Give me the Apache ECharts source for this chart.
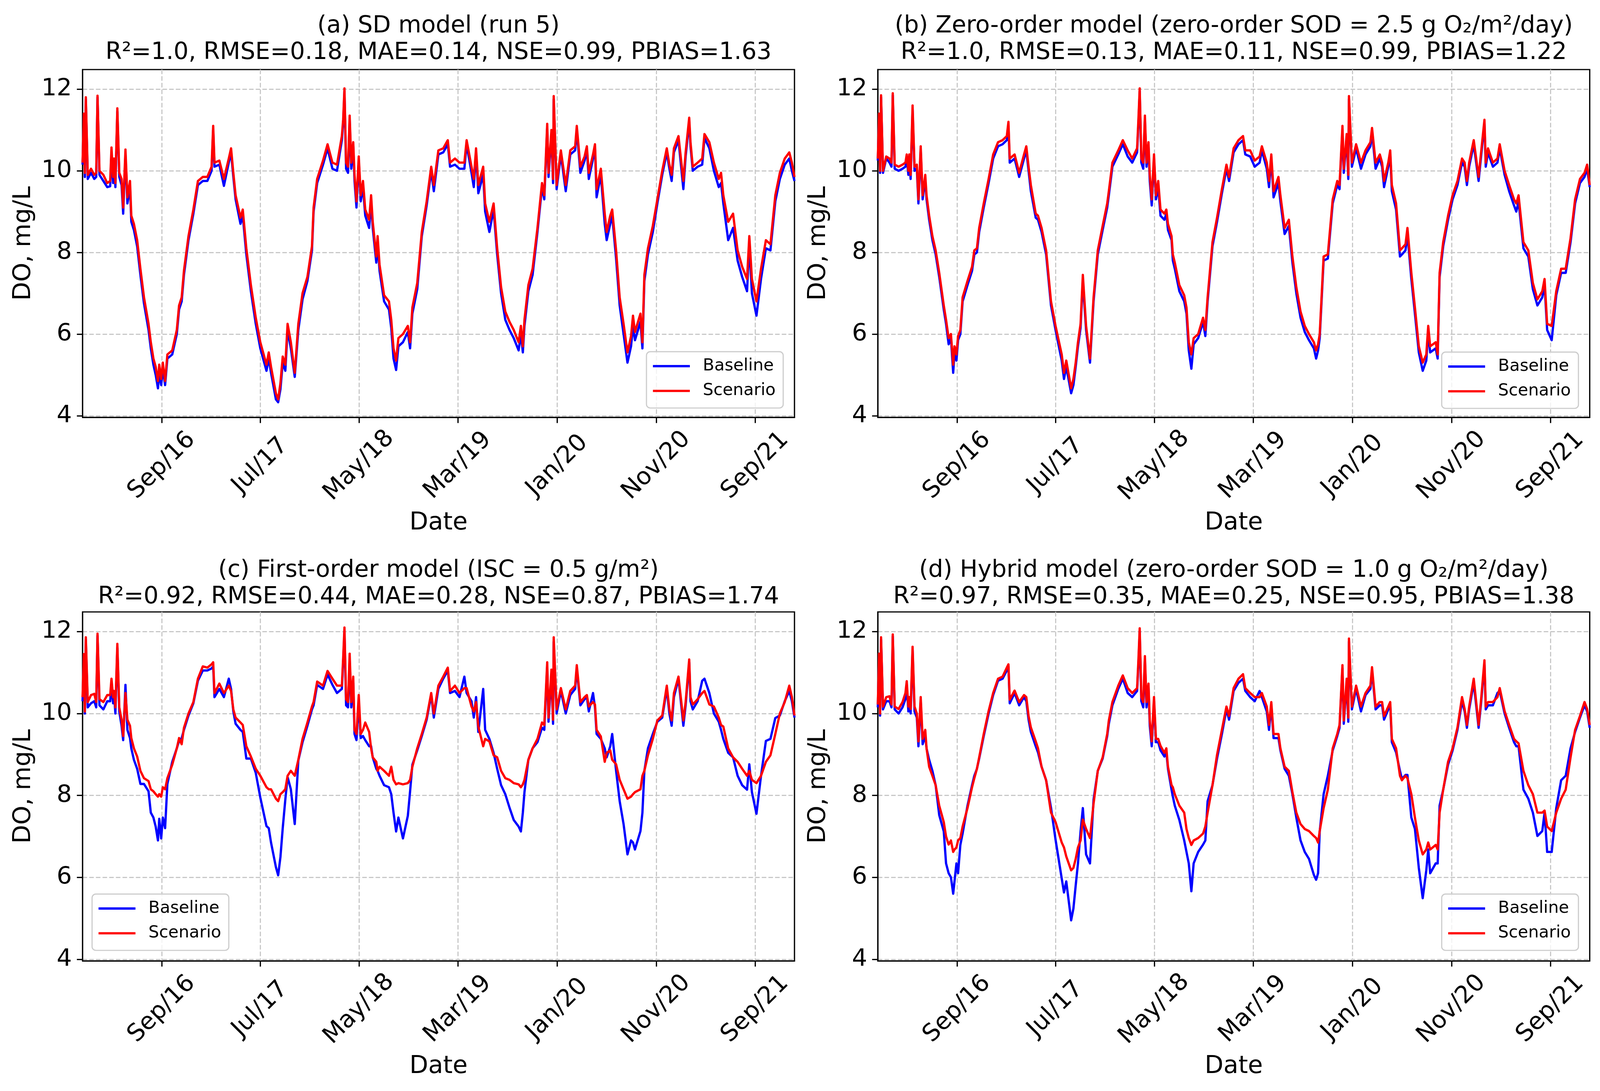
<!DOCTYPE html>
<html>
<head>
<meta charset="utf-8">
<title>DO baseline vs scenario</title>
<script src="https://cdn.jsdelivr.net/npm/echarts@6/dist/echarts.min.js"></script>
<style>
  html, body { margin: 0; padding: 0; background: #fff; overflow: hidden; }
  #chart { width: 100vw; height: 100vh; }
</style>
</head>
<body>
<div id="chart"></div>
<script>
// sample days, counted from 2016-01-01 (denser around spikes)
var days = [
  0, 4, 7, 10, 16, 26, 36, 42, 46, 52,
  64, 76, 85, 89, 94, 97, 101, 107, 113, 120,
  125, 132, 138, 146, 150, 158, 168, 178, 189, 203,
  210, 218, 225, 232, 236, 242, 247, 254, 261, 276,
  290, 297, 305, 312, 326, 341, 355, 370, 384, 397,
  402, 406, 421, 435, 450, 457, 464, 471, 486, 493,
  504, 518, 533, 547, 566, 573, 580, 595, 602, 609,
  616, 624, 631, 641, 653, 664, 677, 692, 706, 711,
  722, 740, 754, 769, 783, 798, 802, 806, 811, 817,
  822, 827, 833, 837, 843, 850, 856, 863, 870, 882,
  888, 893, 904, 908, 914, 928, 943, 950, 957, 965,
  972, 986, 1001, 1008, 1015, 1030, 1044, 1059, 1073, 1081,
  1095, 1110, 1124, 1131, 1146, 1160, 1175, 1182, 1197, 1204,
  1211, 1218, 1233, 1239, 1252, 1265, 1276, 1288, 1301, 1314,
  1327, 1342, 1349, 1355, 1360, 1372, 1385, 1400, 1414, 1421,
  1430, 1434, 1443, 1448, 1450, 1459, 1472, 1487, 1501, 1516,
  1521, 1532, 1545, 1552, 1558, 1571, 1577, 1582, 1595, 1607,
  1613, 1624, 1630, 1642, 1653, 1665, 1677, 1688, 1694, 1700,
  1717, 1723, 1729, 1740, 1755, 1769, 1784, 1798, 1806, 1813,
  1820, 1834, 1849, 1856, 1867, 1871, 1878, 1893, 1907, 1914,
  1929, 1943, 1958, 1965, 1972, 1987, 2002, 2016, 2030, 2045,
  2052, 2060, 2074, 2088, 2103, 2117, 2132, 2146, 2161, 2175,
  2183, 2191
];

// (a) SD model
var aBase = [
  10.15, 11.35, 9.85, 11.75, 9.8, 9.95, 9.8, 9.85, 11.8, 9.9,
  9.75, 9.6, 9.62, 10.45, 9.7, 10.2, 9.6, 11.45, 9.85, 9.65,
  8.95, 10.4, 9.2, 9.6, 8.75, 8.55, 8.15, 7.45, 6.75, 6.1,
  5.65, 5.25, 5.0, 4.67, 5.05, 4.75, 5.15, 4.75, 5.4, 5.5,
  6.0, 6.6, 6.8, 7.45, 8.3, 8.95, 9.65, 9.75, 9.75, 10.0,
  11.0, 10.1, 10.15, 9.63, 10.2, 10.45, 9.85, 9.3, 8.7, 8.9,
  7.95, 7.05, 6.25, 5.65, 5.1, 5.4, 5.05, 4.4, 4.33, 4.65,
  5.3, 5.1, 6.1, 5.65, 4.95, 6.1, 6.85, 7.3, 8.05, 9.0,
  9.7, 10.15, 10.55, 10.05, 10.0, 10.75, 11.15, 11.95, 10.05, 9.95,
  11.25, 10.05, 10.6, 9.75, 9.1, 10.25, 9.25, 9.6, 8.9, 8.6,
  9.25, 8.6, 7.75, 8.25, 7.55, 6.8, 6.6, 6.15, 5.4, 5.12,
  5.7, 5.8, 6.05, 5.65, 6.5, 7.1, 8.4, 9.15, 10.0, 9.5,
  10.4, 10.45, 10.65, 10.1, 10.15, 10.05, 10.05, 10.65, 9.95, 9.6,
  10.45, 9.45, 9.9, 9.0, 8.5, 9.05, 7.95, 7.0, 6.35, 6.1,
  5.9, 5.6, 6.0, 5.55, 6.2, 7.05, 7.45, 8.5, 9.6, 9.3,
  11.05, 9.85, 10.9, 9.7, 11.75, 9.55, 10.4, 9.5, 10.4, 10.5,
  11.0, 9.95, 10.25, 10.5, 9.8, 10.3, 10.55, 9.35, 9.9, 8.7,
  8.3, 8.7, 8.9, 7.85, 6.7, 6.0, 5.3, 5.7, 6.2, 5.85,
  6.3, 5.65, 7.3, 7.95, 8.5, 9.2, 9.9, 10.45, 10.05, 9.75,
  10.45, 10.75, 9.55, 10.35, 11.2, 10.6, 10.0, 10.1, 10.15, 10.8,
  10.55, 10.0, 9.6, 9.7, 9.2, 8.3, 8.6, 7.8, 7.4, 7.05,
  8.2, 7.0, 6.45, 7.35, 8.1, 8.05, 9.25, 9.8, 10.15, 10.3,
  10.0, 9.75
];
var aScen = [
  10.2, 11.4, 9.95, 11.8, 9.9, 10.05, 9.9, 9.95, 11.84, 10.0,
  9.9, 9.7, 9.75, 10.57, 9.85, 10.3, 9.7, 11.53, 9.95, 9.8,
  9.1, 10.52, 9.35, 9.75, 8.9, 8.7, 8.3, 7.6, 6.9, 6.25,
  5.8, 5.4, 5.2, 4.85, 5.25, 4.9, 5.3, 4.85, 5.5, 5.6,
  6.1, 6.7, 6.9, 7.55, 8.4, 9.05, 9.75, 9.85, 9.85, 10.1,
  11.1, 10.2, 10.25, 9.8, 10.3, 10.55, 9.95, 9.4, 8.85, 9.05,
  8.1, 7.2, 6.4, 5.8, 5.25, 5.55, 5.2, 4.55, 4.4, 4.8,
  5.45, 5.25, 6.25, 5.8, 5.05, 6.25, 7.0, 7.4, 8.15, 9.1,
  9.8, 10.25, 10.65, 10.2, 10.15, 10.85, 11.25, 12.02, 10.2, 10.1,
  11.35, 10.2, 10.7, 9.9, 9.25, 10.35, 9.4, 9.75, 9.05, 8.8,
  9.4, 8.75, 7.9, 8.4, 7.7, 6.95, 6.8, 6.35, 5.65, 5.35,
  5.9, 6.0, 6.2, 5.8, 6.65, 7.25, 8.5, 9.25, 10.1, 9.65,
  10.5, 10.55, 10.75, 10.2, 10.3, 10.2, 10.2, 10.75, 10.1, 9.8,
  10.55, 9.65, 10.1, 9.2, 8.75, 9.2, 8.1, 7.15, 6.55, 6.3,
  6.1, 5.8, 6.2, 5.7, 6.35, 7.2, 7.6, 8.6, 9.7, 9.4,
  11.15, 9.95, 11.0, 9.8, 11.83, 9.65, 10.5, 9.65, 10.5, 10.6,
  11.1, 10.1, 10.35, 10.6, 9.95, 10.4, 10.65, 9.55, 10.05, 8.95,
  8.5, 8.9, 9.05, 8.05, 6.9, 6.25, 5.55, 5.95, 6.45, 6.05,
  6.5, 5.8, 7.45, 8.1, 8.65, 9.3, 10.0, 10.55, 10.15, 9.9,
  10.55, 10.85, 9.75, 10.45, 11.3, 10.7, 10.1, 10.2, 10.3, 10.9,
  10.7, 10.2, 9.8, 9.95, 9.4, 8.75, 8.95, 8.05, 7.65, 7.35,
  8.4, 7.35, 6.8, 7.6, 8.3, 8.2, 9.4, 9.95, 10.3, 10.45,
  10.2, 9.85
];

// (b) zero-order model
var bBase = [
  10.25, 11.35, 9.95, 11.8, 9.95, 10.3, 10.2, 10.1, 11.85, 10.05,
  10.0, 10.05, 10.1, 10.3, 9.9, 10.3, 9.8, 11.5, 10.0, 10.05,
  9.2, 10.5, 9.3, 9.8, 9.3, 8.8, 8.3, 7.95, 7.4, 6.6,
  6.25, 5.75, 5.9, 5.05, 5.55, 5.35, 5.85, 6.0, 6.8, 7.2,
  7.55, 7.95, 8.0, 8.5, 9.1, 9.7, 10.3, 10.6, 10.65, 10.75,
  11.1, 10.2, 10.3, 9.85, 10.3, 10.5, 10.0, 9.5, 8.85, 8.8,
  8.5, 7.95, 6.7, 6.1, 5.35, 4.9, 5.2, 4.55, 4.75, 5.2,
  5.7, 6.15, 7.3, 6.1, 5.3, 6.8, 7.95, 8.55, 9.1, 9.4,
  10.1, 10.4, 10.65, 10.35, 10.2, 10.45, 11.15, 11.95, 10.2, 10.05,
  11.25, 10.1, 10.6, 9.75, 9.15, 10.3, 9.3, 9.6, 8.9, 8.8,
  8.95, 8.55, 8.3, 7.8, 7.6, 7.05, 6.8, 6.5, 5.6, 5.15,
  5.75, 5.9, 6.3, 5.95, 6.8, 8.15, 8.75, 9.45, 10.05, 9.75,
  10.45, 10.65, 10.75, 10.4, 10.35, 10.1, 10.2, 10.5, 10.05, 9.6,
  10.3, 9.35, 9.7, 9.25, 8.45, 8.65, 7.75, 7.0, 6.4, 6.05,
  5.85, 5.65, 5.4, 5.6, 5.9, 7.8, 7.85, 9.2, 9.65, 9.55,
  11.0, 9.95, 10.8, 9.8, 11.75, 10.1, 10.55, 10.05, 10.4, 10.6,
  10.95, 10.05, 10.3, 10.1, 9.6, 10.1, 10.4, 9.5, 9.05, 7.9,
  7.95, 8.05, 8.45, 7.35, 6.5, 5.55, 5.1, 5.35, 6.05, 5.55,
  5.65, 5.4, 7.4, 8.15, 8.8, 9.3, 9.65, 10.2, 10.1, 9.65,
  10.1, 10.65, 9.75, 10.3, 11.15, 10.1, 10.45, 10.1, 10.2, 10.55,
  9.9, 9.5, 9.15, 9.0, 9.25, 8.1, 7.9, 7.1, 6.7, 6.9,
  7.2, 6.1, 5.85, 6.95, 7.5, 7.5, 8.25, 9.2, 9.7, 9.85,
  10.05, 9.6
];
var bScen = [
  10.3, 11.4, 10.0, 11.85, 10.0, 10.35, 10.3, 10.2, 11.9, 10.15,
  10.1, 10.15, 10.2, 10.4, 10.0, 10.4, 9.9, 11.6, 10.1, 10.15,
  9.3, 10.6, 9.4, 9.9, 9.4, 8.9, 8.4, 8.05, 7.5, 6.7,
  6.35, 5.9, 6.0, 5.25, 5.7, 5.5, 5.95, 6.1, 6.9, 7.3,
  7.65, 8.05, 8.1, 8.6, 9.2, 9.8, 10.4, 10.7, 10.75, 10.85,
  11.2, 10.3, 10.4, 9.95, 10.4, 10.6, 10.1, 9.65, 8.95, 8.9,
  8.6, 8.05, 6.8, 6.2, 5.5, 5.05, 5.35, 4.67, 4.9, 5.3,
  5.8, 6.25, 7.45, 6.2, 5.4, 6.9, 8.05, 8.65, 9.2, 9.5,
  10.2, 10.5, 10.75, 10.5, 10.3, 10.55, 11.25, 12.02, 10.3, 10.2,
  11.35, 10.2, 10.7, 9.9, 9.3, 10.4, 9.4, 9.75, 9.05, 8.95,
  9.05, 8.7, 8.4, 7.95, 7.75, 7.2, 6.95, 6.65, 5.8, 5.5,
  5.9, 6.0, 6.4, 6.1, 6.9, 8.25, 8.85, 9.55, 10.15, 9.85,
  10.55, 10.75, 10.85, 10.5, 10.5, 10.25, 10.35, 10.6, 10.2, 9.75,
  10.4, 9.5, 9.85, 9.4, 8.6, 8.8, 7.9, 7.15, 6.55, 6.2,
  6.0, 5.8, 5.6, 5.75, 6.0, 7.9, 7.95, 9.3, 9.75, 9.65,
  11.1, 10.05, 10.9, 9.9, 11.83, 10.2, 10.65, 10.2, 10.5, 10.7,
  11.05, 10.2, 10.4, 10.2, 9.75, 10.2, 10.5, 9.65, 9.2, 8.05,
  8.1, 8.2, 8.6, 7.5, 6.65, 5.7, 5.3, 5.5, 6.2, 5.7,
  5.8, 5.5, 7.5, 8.25, 8.9, 9.4, 9.75, 10.3, 10.2, 9.75,
  10.2, 10.75, 9.85, 10.4, 11.25, 10.2, 10.55, 10.2, 10.3, 10.65,
  10.0, 9.65, 9.3, 9.2, 9.4, 8.25, 8.05, 7.25, 6.85, 7.05,
  7.35, 6.25, 6.2, 7.05, 7.6, 7.6, 8.35, 9.3, 9.8, 9.95,
  10.15, 9.65
];

// (c) first-order model
var cBase = [
  10.3, 11.4, 10.0, 11.8, 10.15, 10.25, 10.3, 10.15, 11.9, 10.2,
  10.1, 10.3, 10.3, 10.7, 10.25, 10.45, 10.0, 11.6, 10.05, 9.7,
  9.35, 10.7, 9.6, 9.4, 9.15, 8.87, 8.65, 8.28, 8.28, 8.1,
  7.58, 7.46, 7.24, 6.9, 7.43, 6.95, 7.46, 7.2, 8.28, 8.82,
  9.15, 9.33, 9.4, 9.6, 9.95, 10.25, 10.8, 11.05, 11.05, 11.1,
  11.15, 10.4, 10.6, 10.4, 10.85, 10.6, 10.05, 9.75, 9.6, 9.55,
  8.9, 8.9, 8.55, 7.95, 7.25, 7.2, 6.85, 6.25, 6.05, 6.5,
  7.2, 7.9, 8.45, 8.15, 7.3, 8.85, 9.3, 9.7, 10.1, 10.2,
  10.7, 10.6, 10.95, 10.7, 10.5, 10.6, 11.25, 12.0, 10.2, 10.15,
  11.3, 10.15, 10.75, 9.5, 9.35, 10.3, 9.4, 9.45, 9.35, 9.2,
  9.2, 8.93, 8.65, 8.6, 8.48, 8.25, 8.2, 8.03, 7.58, 7.12,
  7.46, 6.95, 7.5, 8.1, 8.75, 9.1, 9.45, 9.85, 10.45, 9.9,
  10.6, 10.85, 11.05, 10.5, 10.55, 10.4, 10.9, 10.5, 10.3, 9.9,
  10.4, 9.55, 10.6, 9.6, 9.38, 9.04, 8.65, 8.25, 8.03, 7.7,
  7.4, 7.24, 7.12, 7.58, 8.08, 8.87, 9.15, 9.3, 9.65, 9.6,
  11.15, 9.8, 10.95, 9.75, 11.75, 10.0, 10.55, 10.0, 10.45, 10.6,
  11.1, 10.2, 10.35, 10.4, 10.05, 10.5, 10.15, 9.5, 9.38, 9.15,
  8.93, 9.2, 9.5, 8.6, 7.86, 7.3, 6.56, 6.9, 6.85, 6.68,
  7.13, 7.58, 8.6, 9.15, 9.5, 9.8, 9.9, 10.6, 10.0, 9.7,
  10.4, 10.85, 9.7, 10.2, 11.25, 10.3, 10.1, 10.3, 10.8, 10.85,
  10.5, 10.0, 9.8, 9.6, 9.38, 9.04, 8.93, 8.48, 8.25, 8.14,
  8.76, 8.08, 7.55, 8.48, 9.33, 9.38, 9.89, 9.95, 10.3, 10.55,
  10.3, 9.9
];
var cScen = [
  10.4, 11.45, 10.05, 11.86, 10.28, 10.45, 10.48, 10.28, 11.95, 10.35,
  10.28, 10.45, 10.45, 10.85, 10.4, 10.55, 10.15, 11.7, 10.15, 9.85,
  9.45, 10.5, 9.85, 9.7, 9.4, 9.15, 8.95, 8.6, 8.42, 8.35,
  8.15, 8.1, 8.03, 7.97, 8.03, 7.97, 8.2, 8.15, 8.42, 8.75,
  9.15, 9.4, 9.25, 9.65, 10.0, 10.28, 10.85, 11.15, 11.12, 11.2,
  11.25, 10.5, 10.73, 10.5, 10.68, 10.55, 10.1, 9.9, 9.78, 9.72,
  9.2, 8.95, 8.65, 8.48, 8.2, 8.15, 8.15, 7.92, 7.86, 8.03,
  8.08, 8.15, 8.48, 8.6, 8.48, 8.87, 9.38, 9.78, 10.17, 10.28,
  10.78, 10.68, 11.04, 10.85, 10.68, 10.68, 11.35, 12.1, 10.35, 10.28,
  11.46, 10.28, 10.9, 9.6, 9.5, 10.45, 9.5, 9.6, 9.78, 9.55,
  9.15, 8.93, 8.82, 8.6, 8.7, 8.6, 8.48, 8.7, 8.38, 8.27,
  8.3, 8.27, 8.3, 8.38, 8.7, 9.15, 9.5, 9.9, 10.5, 10.0,
  10.68, 10.9, 11.12, 10.55, 10.68, 10.5, 10.62, 10.62, 10.17, 10.05,
  10.28, 9.68, 9.2, 9.38, 9.32, 8.98, 8.93, 8.6, 8.42, 8.38,
  8.3, 8.27, 8.2, 8.27, 8.38, 8.87, 9.15, 9.38, 9.78, 9.72,
  11.25, 9.9, 11.07, 9.85, 11.86, 10.1, 10.62, 10.1, 10.55, 10.68,
  11.18, 10.28, 10.4, 10.45, 10.17, 10.28, 10.22, 9.6, 9.44, 8.82,
  9.04, 9.1, 8.87, 8.76, 8.38, 8.15, 7.92, 7.97, 8.03, 8.08,
  8.15, 8.48, 8.6, 8.98, 9.38, 9.83, 9.95, 10.68, 10.1, 9.83,
  10.5, 10.9, 9.83, 10.28, 11.32, 10.4, 10.22, 10.35, 10.5, 10.55,
  10.22, 10.17, 9.9, 9.72, 9.68, 9.15, 8.93, 8.82, 8.65, 8.48,
  8.6, 8.38, 8.3, 8.48, 8.82, 8.98, 9.5, 10.0, 10.28, 10.68,
  10.4, 9.95
];

// (d) hybrid model
var dBase = [
  10.15, 11.4, 9.95, 11.8, 10.1, 10.3, 10.3, 10.15, 11.88, 10.1,
  10.0, 10.15, 10.35, 10.7, 10.05, 10.3, 10.0, 11.55, 10.05, 9.9,
  9.2, 10.3, 9.25, 9.45, 9.15, 8.87, 8.6, 8.25, 7.52, 7.12,
  6.34, 6.1, 6.0, 5.6, 5.9, 6.34, 6.1, 6.79, 7.07, 7.75,
  8.25, 8.48, 8.65, 8.9, 9.45, 10.0, 10.45, 10.8, 10.85, 11.05,
  11.15, 10.25, 10.5, 10.2, 10.4, 10.3, 9.85, 9.55, 9.2, 9.05,
  8.7, 8.37, 7.7, 6.92, 5.97, 5.63, 5.9, 4.95, 5.24, 5.8,
  6.34, 7.12, 7.69, 6.56, 6.34, 7.9, 8.6, 8.9, 9.45, 9.75,
  10.2, 10.6, 10.85, 10.5, 10.4, 10.55, 11.2, 12.0, 10.3, 10.15,
  11.3, 10.15, 10.65, 9.7, 9.2, 10.3, 9.3, 9.3, 9.1, 8.95,
  9.05, 8.65, 8.14, 7.97, 7.75, 7.4, 6.9, 6.62, 6.34, 5.66,
  6.34, 6.62, 6.8, 6.9, 7.86, 8.25, 8.9, 9.5, 10.1, 9.85,
  10.55, 10.75, 10.85, 10.55, 10.4, 10.3, 10.55, 10.4, 10.05, 9.6,
  10.2, 9.4, 9.4, 9.1, 8.65, 8.48, 8.03, 7.46, 6.9, 6.62,
  6.45, 6.06, 5.94, 6.1, 7.12, 8.03, 8.48, 9.1, 9.45, 9.65,
  11.1, 9.75, 10.75, 9.8, 11.75, 10.1, 10.6, 10.05, 10.45, 10.6,
  11.05, 10.1, 10.2, 10.2, 9.85, 10.1, 10.2, 9.3, 9.05, 8.6,
  8.4, 8.5, 8.5, 7.46, 7.18, 6.23, 5.49, 6.17, 6.68, 6.1,
  6.34, 6.34, 7.75, 8.14, 8.75, 9.1, 9.6, 10.3, 10.05, 9.65,
  10.1, 10.75, 9.65, 10.2, 11.2, 10.1, 10.2, 10.2, 10.5, 10.55,
  10.0, 9.65, 9.3, 9.2, 9.2, 8.14, 7.92, 7.58, 7.01, 7.13,
  7.58, 6.62, 6.62, 7.69, 8.37, 8.48, 9.15, 9.55, 9.9, 10.2,
  10.05, 9.65
];
var dScen = [
  10.22, 11.46, 10.0, 11.86, 10.17, 10.4, 10.42, 10.22, 11.93, 10.17,
  10.11, 10.28, 10.5, 10.79, 10.17, 10.4, 10.11, 11.63, 10.17, 10.0,
  9.32, 10.4, 9.38, 9.6, 9.15, 8.7, 8.48, 8.25, 7.75, 7.35,
  7.0, 6.8, 6.9, 6.62, 6.68, 6.73, 6.9, 6.96, 7.24, 7.69,
  8.2, 8.42, 8.65, 8.93, 9.5, 10.06, 10.5, 10.85, 10.9, 11.12,
  11.2, 10.34, 10.56, 10.28, 10.45, 10.4, 9.94, 9.66, 9.32, 9.15,
  8.7, 8.37, 7.58, 7.35, 6.85, 6.73, 6.51, 6.17, 6.23, 6.45,
  6.73, 6.9, 7.41, 7.18, 6.96, 7.8, 8.6, 8.93, 9.5, 9.83,
  10.28, 10.68, 10.93, 10.62, 10.5, 10.62, 11.3, 12.08, 10.4, 10.28,
  11.4, 10.28, 10.73, 9.83, 9.32, 10.4, 9.38, 9.38, 9.21, 9.04,
  9.15, 8.7, 8.25, 8.2, 8.03, 7.75, 7.58, 7.18, 6.96, 6.79,
  6.9, 6.96, 7.07, 7.24, 7.58, 8.25, 8.99, 9.6, 10.17, 9.94,
  10.62, 10.85, 10.96, 10.62, 10.5, 10.4, 10.4, 10.5, 10.17, 9.72,
  10.28, 9.5, 9.5, 9.15, 8.7, 8.6, 8.08, 7.58, 7.3, 7.18,
  7.13, 7.01, 6.96, 6.85, 7.13, 7.69, 8.14, 9.15, 9.5, 9.72,
  11.18, 9.83, 10.85, 9.9, 11.83, 10.17, 10.68, 10.17, 10.5, 10.68,
  11.13, 10.17, 10.28, 10.28, 9.94, 10.17, 10.28, 9.38, 9.15, 8.48,
  8.37, 8.48, 8.42, 8.03, 7.46, 6.9, 6.56, 6.68, 6.85, 6.68,
  6.79, 6.68, 7.58, 8.14, 8.82, 9.15, 9.66, 10.4, 10.11, 9.72,
  10.17, 10.85, 9.72, 10.28, 11.3, 10.17, 10.28, 10.28, 10.4, 10.62,
  10.06, 9.72, 9.38, 9.32, 9.27, 8.6, 8.25, 8.03, 7.58, 7.58,
  7.63, 7.24, 7.13, 7.58, 7.92, 8.14, 8.93, 9.6, 9.94, 10.28,
  10.11, 9.72
];

// x ticks: 2016-09-01, 2017-07-01, 2018-05-01, 2019-03-01, 2020-01-01, 2020-11-01, 2021-09-01
var tickDays = [244, 547, 851, 1155, 1461, 1766, 2070];
var tickLabels = ['Sep/16', 'Jul/17', 'May/18', 'Mar/19', 'Jan/20', 'Nov/20', 'Sep/21'];
var yTicks = [4, 6, 8, 10, 12];

var titles = [
  '(a) SD model (run 5)\nR²=1.0, RMSE=0.18, MAE=0.14, NSE=0.99, PBIAS=1.63',
  '(b) Zero-order model (zero-order SOD = 2.5 g O₂/m²/day)\nR²=1.0, RMSE=0.13, MAE=0.11, NSE=0.99, PBIAS=1.22',
  '(c) First-order model (ISC = 0.5 g/m²)\nR²=0.92, RMSE=0.44, MAE=0.28, NSE=0.87, PBIAS=1.74',
  '(d) Hybrid model (zero-order SOD = 1.0 g O₂/m²/day)\nR²=0.97, RMSE=0.35, MAE=0.25, NSE=0.95, PBIAS=1.38'
];

var FONT = 'DejaVu Sans';
var el = document.getElementById('chart');
var chart = echarts.init(el, null, { renderer: 'canvas' });

// layout was measured on a 4205 x 2792 canvas; scale it to the real viewport
var sx = chart.getWidth() / 4205, sy = chart.getHeight() / 2792, s = Math.min(sx, sy);
function X(v) { return v * sx; }
function Y(v) { return v * sy; }
function S(v) { return v * s; }

var panels = [
  { base: aBase, scen: aScen, left: 217, top: 178, height: 890, legendLeft: 1699, legendTop: 900, titleTop: 33 },
  { base: bBase, scen: bScen, left: 2307, top: 178, height: 890, legendLeft: 3789, legendTop: 901, titleTop: 33 },
  { base: cBase, scen: cScen, left: 217, top: 1566, height: 893, legendLeft: 242, legendTop: 2288, titleTop: 1426 },
  { base: dBase, scen: dScen, left: 2307, top: 1566, height: 893, legendLeft: 3789, legendTop: 2288, titleTop: 1426 }
];
var W = 1871;

function pairs(ys) {
  return days.map(function (d, i) { return [d, ys[i]]; });
}

var gridLine = { show: true, lineStyle: { color: '#c8c8c8', width: S(3), type: [S(12), S(5.5)] } };
var black = { color: '#000', width: S(3.3) };

var option = { animation: false, backgroundColor: '#fff', title: [], grid: [], xAxis: [], yAxis: [], legend: [], series: [] };

panels.forEach(function (p, i) {
  option.title.push({
    text: titles[i], left: X(p.left + W / 2), top: Y(p.titleTop), textAlign: 'center', padding: 0,
    textStyle: { fontFamily: FONT, fontSize: S(62), fontWeight: 'normal', lineHeight: S(70), color: '#000' }
  });
  option.grid.push({
    left: X(p.left), top: Y(p.top), width: X(W), height: Y(p.height),
    show: true, borderColor: '#000', borderWidth: S(3.3), backgroundColor: 'transparent'
  });
  option.xAxis.push({
    type: 'value', gridIndex: i, min: 0, max: 2191,
    axisLine: { show: true, onZero: false, lineStyle: black },
    axisTick: { show: true, length: S(15), lineStyle: black, customValues: tickDays },
    axisLabel: {
      customValues: tickDays, rotate: 45, align: 'center', verticalAlign: 'middle', margin: S(127),
      fontFamily: FONT, fontSize: S(63), color: '#000',
      formatter: function (v) { return tickLabels[tickDays.indexOf(v)]; }
    },
    splitLine: gridLine,
    name: 'Date', nameLocation: 'middle', nameGap: S(278),
    nameTextStyle: { fontFamily: FONT, fontSize: S(64), color: '#000', verticalAlign: 'middle' }
  });
  option.yAxis.push({
    type: 'value', gridIndex: i, min: 3.96, max: 12.48,
    axisLine: { show: true, onZero: false, lineStyle: black },
    axisTick: { show: true, length: S(15), lineStyle: black, customValues: yTicks },
    axisLabel: { customValues: yTicks, margin: S(28), fontFamily: FONT, fontSize: S(63), color: '#000' },
    splitLine: gridLine,
    name: 'DO, mg/L', nameLocation: 'middle', nameGap: S(155), nameRotate: 90,
    nameTextStyle: { fontFamily: FONT, fontSize: S(64), color: '#000', verticalAlign: 'middle' }
  });
  option.legend.push({
    left: X(p.legendLeft), top: Y(p.legendTop), orient: 'vertical', data: ['Baseline', 'Scenario'],
    icon: 'rect', itemWidth: S(97), itemHeight: S(6), itemGap: S(15), selectedMode: false,
    padding: [S(13), S(20), S(20), S(17)], borderColor: '#cccccc', borderWidth: S(3), borderRadius: S(10),
    backgroundColor: 'rgba(255,255,255,0.8)',
    textStyle: { fontFamily: FONT, fontSize: S(44), lineHeight: S(50), color: '#000', padding: [0, 0, 0, S(29)] }
  });
  option.series.push({
    type: 'line', name: 'Baseline', xAxisIndex: i, yAxisIndex: i, data: pairs(p.base),
    symbol: 'none', z: 2, color: '#0000ff',
    lineStyle: { color: '#0000ff', width: S(6), join: 'round' }
  });
  option.series.push({
    type: 'line', name: 'Scenario', xAxisIndex: i, yAxisIndex: i, data: pairs(p.scen),
    symbol: 'none', z: 3, color: '#ff0000',
    lineStyle: { color: '#ff0000', width: S(6), join: 'round' }
  });
});

chart.setOption(option);
window.addEventListener('resize', function () { chart.resize(); });
</script>
</body>
</html>
